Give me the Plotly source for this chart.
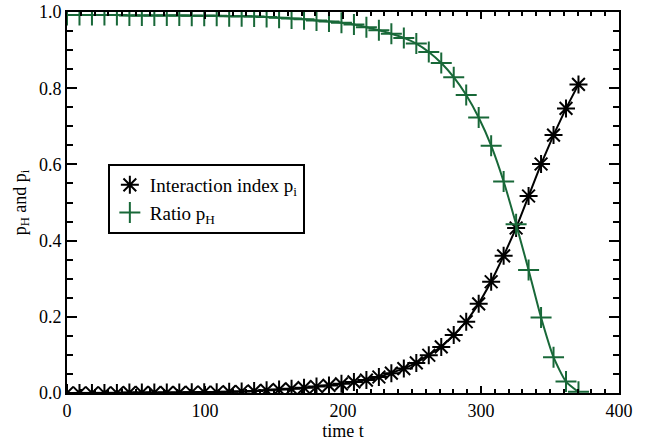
import plotly.graph_objects as go

# time values of sampled points
time_t = [0.0, 9.04, 18.08, 27.12, 36.16, 45.2, 54.24, 63.28, 72.32, 81.36,
          90.4, 99.44, 108.48, 117.52, 126.56, 135.6, 144.64, 153.68, 162.72, 171.76,
          180.8, 189.84, 198.88, 207.92, 216.96, 226.0, 235.04, 244.08, 253.12, 262.16,
          271.2, 280.24, 289.28, 298.32, 307.36, 316.4, 325.44, 334.48, 343.52, 352.56,
          361.6, 370.64]

# Interaction index p_i
p_i = [0.000, 0.000, 0.000, 0.000, 0.000, 0.001, 0.001, 0.001, 0.001, 0.001,
       0.002, 0.002, 0.002, 0.003, 0.004, 0.005, 0.007, 0.009, 0.011, 0.014,
       0.017, 0.020, 0.024, 0.029, 0.034, 0.042, 0.052, 0.064, 0.079, 0.099,
       0.121, 0.152, 0.187, 0.234, 0.292, 0.360, 0.433, 0.517, 0.601, 0.677,
       0.747, 0.810]

# Ratio p_H
p_H = [0.992, 0.992, 0.992, 0.992, 0.992, 0.991, 0.991, 0.991, 0.991, 0.991,
       0.990, 0.990, 0.990, 0.989, 0.989, 0.988, 0.987, 0.985, 0.983, 0.981,
       0.978, 0.975, 0.972, 0.967, 0.960, 0.952, 0.943, 0.932, 0.917, 0.895,
       0.866, 0.829, 0.782, 0.723, 0.649, 0.555, 0.443, 0.323, 0.198, 0.094,
       0.030, 0.003]

x_ticks = [0, 100, 200, 300, 400]
y_ticks = [0.0, 0.2, 0.4, 0.6, 0.8, 1.0]
y_tick_text = ["0.0", "0.2", "0.4", "0.6", "0.8", "1.0"]

name_i = "Interaction index p<sub>i</sub>"
name_h = "Ratio p<sub>H</sub>"

BLACK = "#000000"
GREEN = "rgb(24,104,56)"
FONT = "Liberation Serif"

fig = go.Figure()

fig.add_trace(go.Scatter(
    x=time_t, y=p_i, mode="lines+markers", showlegend=False,
    line=dict(color=BLACK, width=2),
    marker=dict(symbol="asterisk-open", size=15, color=BLACK,
                line=dict(color=BLACK, width=2)),
))
fig.add_trace(go.Scatter(
    x=time_t, y=p_H, mode="lines+markers", showlegend=False,
    line=dict(color=GREEN, width=2, shape="spline", smoothing=0.6),
    marker=dict(symbol="cross-thin-open", size=15, color=GREEN,
                line=dict(color=GREEN, width=2)),
))
# legend-only entries (marker symbol only, as in the reference)
fig.add_trace(go.Scatter(
    x=[None], y=[None], mode="markers", name=name_i,
    marker=dict(symbol="asterisk-open", size=15, color=BLACK,
                line=dict(color=BLACK, width=2)),
))
fig.add_trace(go.Scatter(
    x=[None], y=[None], mode="markers", name=name_h,
    marker=dict(symbol="cross-thin-open", size=15, color=GREEN,
                line=dict(color=GREEN, width=2)),
))

axis_common = dict(
    showline=True, linecolor=BLACK, linewidth=2, mirror="allticks",
    ticks="inside", tickcolor=BLACK, tickwidth=2,
    showgrid=False, zeroline=False, automargin=False,
    ticklabeloverflow="allow",
    tickfont=dict(family=FONT, size=18, color=BLACK),
)

fig.update_layout(
    width=647, height=443,
    margin=dict(l=67, r=28, t=12, b=50),
    paper_bgcolor="white", plot_bgcolor="white",
    font=dict(family=FONT, size=18, color=BLACK),
    xaxis=dict(
        range=[0, 400], tickvals=x_ticks, ticklen=7,
        minor=dict(ticks="inside", dtick=10, ticklen=4, tickcolor=BLACK, tickwidth=2),
        title=dict(text="time t", font=dict(family=FONT, size=18, color=BLACK), standoff=0),
        **axis_common,
    ),
    yaxis=dict(
        range=[0, 1], tickvals=y_ticks, ticktext=y_tick_text, ticklen=10,
        minor=dict(ticks="inside", dtick=0.05, ticklen=6, tickcolor=BLACK, tickwidth=2),
        title=dict(text="p<sub>H</sub> and p<sub>i</sub>",
                   font=dict(family=FONT, size=18, color=BLACK), standoff=8),
        **axis_common,
    ),
    legend=dict(
        x=0.074, y=0.601, xanchor="left", yanchor="top",
        bgcolor="white", bordercolor=BLACK, borderwidth=2,
        font=dict(family=FONT, size=19, color=BLACK),
        itemwidth=30, tracegroupgap=0,
    ),
)

# remove the page's default 8px body margin so the figure fills the window
fig.write_html("out.html",
               config={"displayModeBar": False},
               post_script="document.body.style.margin='0px';document.body.style.overflow='hidden';")
